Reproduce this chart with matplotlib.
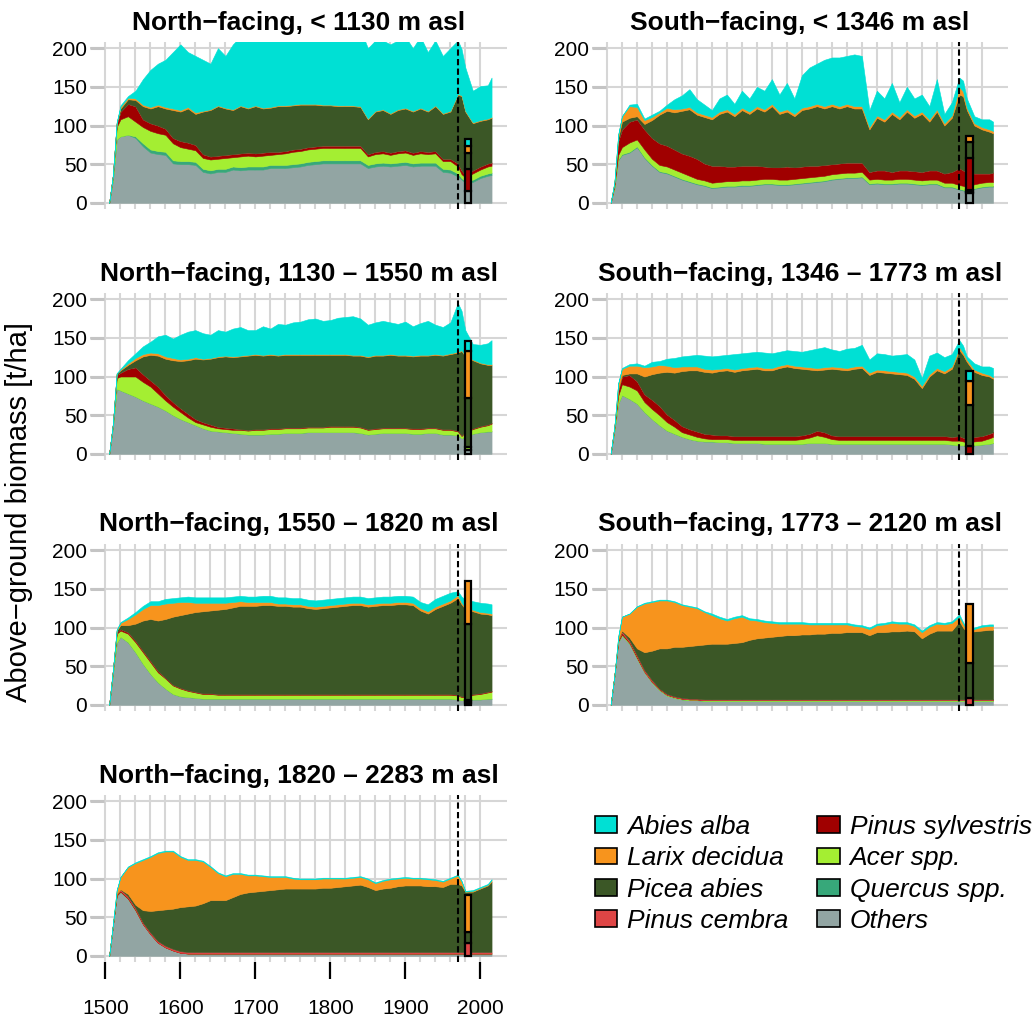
import matplotlib
matplotlib.use("Agg")
import matplotlib.pyplot as plt
from matplotlib.patches import Patch
from matplotlib.font_manager import FontProperties
import numpy as np

plt.rcParams['font.family'] = ['Liberation Sans', 'DejaVu Sans']

# ---------------------------------------------------------------------------
# Simulated above-ground biomass [t/ha] per species, by elevation belt
# ---------------------------------------------------------------------------
YEARS = [1505, 1510, 1515, 1520, 1530, 1540, 1550, 1560, 1570, 1580,
         1590, 1600, 1610, 1620, 1630, 1640, 1650, 1660, 1670, 1680,
         1690, 1700, 1710, 1720, 1730, 1740, 1750, 1760, 1770, 1780,
         1790, 1800, 1810, 1820, 1830, 1840, 1850, 1860, 1870, 1880,
         1890, 1900, 1910, 1920, 1930, 1940, 1950, 1960, 1970, 1975,
         1980, 1990, 2000, 2010, 2015]

# stacking order, bottom to top
SPECIES = ["Others", "Quercus spp.", "Acer spp.", "Pinus sylvestris",
           "Pinus cembra", "Picea abies", "Larix decidua", "Abies alba"]
COLORS = {"Abies alba": "#00E0D4", "Larix decidua": "#F7941D",
          "Picea abies": "#3B5726", "Pinus cembra": "#DE4545",
          "Pinus sylvestris": "#A00000", "Acer spp.": "#A4EE32",
          "Quercus spp.": "#37A87A", "Others": "#92A5A3"}
LEGEND_ORDER = ["Abies alba", "Larix decidua", "Picea abies", "Pinus cembra",
                "Pinus sylvestris", "Acer spp.", "Quercus spp.", "Others"]

# --- North-facing, < 1130 m asl
n1_others = [0, 30, 82, 86, 88, 84, 73, 65, 63, 62,
             51, 50, 50, 49, 40, 38, 40, 40, 43, 42,
             43, 43, 43, 45, 45, 45, 46, 47, 49, 50,
             51, 51, 51, 51, 51, 51, 45, 47, 48, 47,
             48, 49, 47, 48, 48, 48, 40, 39, 34, 30,
             26, 27, 32, 35, 36]
n1_quercus = [0, 0, 0, 0, 0, 2, 4, 4, 4, 4,
              4, 4, 4, 4, 4, 4, 4, 4, 4, 4,
              4, 4, 4, 4, 4, 4, 4, 4, 4, 4,
              4, 4, 4, 4, 4, 4, 4, 4, 4, 4,
              4, 4, 4, 4, 4, 4, 4, 4, 4, 2,
              2, 3, 3, 3, 3]
n1_acer = [0, 5, 16, 22, 24, 19, 21, 24, 23, 22,
           22, 18, 16, 15, 14, 14, 13, 14, 12, 14,
           14, 13, 14, 13, 14, 15, 16, 16, 16, 16,
           16, 16, 16, 16, 16, 16, 11, 12, 12, 11,
           12, 12, 11, 12, 11, 12, 10, 11, 9, 5,
           5, 8, 8, 9, 9]
n1_sylvestris = [0, 1, 4, 10, 16, 20, 10, 10, 10, 8,
                 7, 8, 8, 7, 5, 4, 4, 4, 4, 4,
                 4, 4, 4, 4, 3, 3, 3, 3, 3, 3,
                 3, 3, 3, 3, 3, 3, 3, 3, 3, 3,
                 3, 3, 3, 3, 3, 3, 3, 3, 4, 5,
                 3, 4, 4, 4, 4]
n1_picea = [0, 0, 1, 4, 6, 8, 17, 19, 25, 26,
            36, 38, 44, 40, 55, 60, 64, 60, 57, 61,
            57, 61, 57, 57, 59, 58, 57, 57, 55, 54,
            52, 52, 51, 51, 51, 50, 45, 52, 53, 50,
            53, 54, 53, 55, 52, 58, 58, 61, 89, 96,
            82, 61, 59, 57, 58]
n1_larix = [0, 0, 1, 2, 2, 2, 2, 2, 2, 2,
            2, 2, 2, 2, 1, 1, 1, 1, 1, 1,
            1, 1, 1, 1, 1, 1, 1, 1, 1, 1,
            1, 1, 1, 1, 1, 1, 1, 1, 1, 1,
            1, 1, 1, 1, 1, 1, 1, 1, 1, 1,
            1, 1, 1, 1, 1]
n1_abies = [0, 0, 0, 2, 2, 10, 33, 48, 53, 61,
            73, 85, 71, 73, 66, 59, 74, 67, 84, 89,
            97, 99, 102, 101, 99, 99, 98, 97, 97, 97,
            98, 98, 99, 99, 99, 100, 91, 91, 89, 89,
            89, 92, 81, 92, 76, 84, 74, 81, 69, 60,
            56, 41, 44, 43, 51]

# --- South-facing, < 1346 m asl
s1_others = [0, 20, 55, 62, 65, 72, 58, 48, 40, 38,
             34, 30, 27, 24, 22, 19, 20, 21, 21, 22,
             22, 23, 24, 24, 23, 23, 24, 25, 26, 27,
             28, 30, 31, 32, 32, 33, 24, 25, 24, 24,
             25, 25, 24, 23, 24, 24, 20, 20, 17, 16,
             14, 18, 20, 21, 21]
s1_quercus = [0, 0, 1, 1, 1, 1, 1, 1, 1, 1,
              1, 1, 1, 1, 1, 1, 1, 1, 1, 1,
              1, 1, 1, 1, 1, 1, 1, 1, 1, 1,
              1, 1, 1, 1, 1, 1, 1, 1, 1, 1,
              1, 1, 1, 1, 1, 1, 1, 1, 1, 1,
              1, 1, 1, 1, 1]
s1_acer = [0, 2, 6, 9, 12, 9, 10, 8, 8, 8,
           8, 8, 7, 6, 6, 6, 6, 6, 6, 6,
           6, 6, 6, 6, 6, 6, 6, 6, 6, 6,
           6, 6, 6, 6, 6, 6, 5, 5, 5, 5,
           5, 5, 5, 5, 5, 5, 5, 5, 5, 5,
           5, 5, 5, 5, 5]
s1_sylvestris = [0, 3, 18, 23, 27, 26, 26, 27, 28, 27,
                 26, 25, 26, 26, 22, 22, 21, 19, 19, 19,
                 19, 18, 16, 15, 16, 17, 15, 15, 15, 14,
                 14, 13, 13, 13, 13, 12, 10, 11, 12, 10,
                 11, 11, 11, 11, 12, 12, 12, 14, 22, 20,
                 20, 14, 12, 11, 12]
s1_picea = [0, 1, 4, 10, 5, 4, 7, 23, 37, 45,
            48, 55, 60, 57, 60, 60, 67, 71, 65, 72,
            67, 74, 71, 79, 69, 71, 66, 73, 74, 77,
            73, 75, 71, 73, 70, 70, 55, 68, 63, 75,
            66, 76, 69, 75, 63, 76, 62, 70, 95, 96,
            80, 62, 57, 54, 51]
s1_larix = [0, 1, 4, 7, 15, 12, 5, 4, 3, 4,
            4, 3, 3, 3, 3, 3, 3, 3, 3, 3,
            3, 3, 3, 3, 3, 3, 3, 3, 3, 3,
            3, 3, 3, 3, 3, 3, 3, 3, 3, 3,
            3, 3, 3, 3, 3, 3, 3, 3, 10, 6,
            3, 3, 3, 3, 3]
s1_abies = [0, 0, 0, 0, 2, 4, 2, 3, 2, 4,
            13, 17, 23, 17, 13, 9, 17, 19, 13, 22,
            17, 25, 24, 32, 22, 34, 20, 42, 50, 52,
            60, 60, 63, 62, 67, 65, 22, 32, 27, 37,
            19, 29, 22, 22, 17, 39, 12, 17, 12, 14,
            12, 9, 10, 13, 12]

# --- North-facing, 1130 - 1550 m asl
n2_others = [0, 35, 84, 82, 78, 74, 69, 65, 61, 56,
             50, 45, 41, 37, 33, 30, 29, 28, 27, 26,
             25, 25, 25, 26, 26, 27, 27, 27, 28, 28,
             28, 28, 28, 28, 28, 27, 25, 26, 27, 27,
             27, 27, 26, 26, 27, 27, 25, 25, 24, 20,
             22, 26, 28, 29, 29]
n2_acer = [0, 3, 14, 18, 22, 26, 24, 22, 17, 13,
           11, 9, 6, 4, 5, 5, 4, 4, 4, 5,
           5, 6, 6, 6, 6, 6, 6, 6, 6, 6,
           6, 7, 7, 7, 7, 7, 6, 6, 6, 6,
           6, 6, 6, 6, 6, 6, 6, 6, 5, 3,
           6, 6, 7, 8, 10]
n2_sylvestris = [0, 1, 4, 5, 10, 12, 10, 8, 9, 7,
                 6, 5, 5, 4, 3, 3, 2, 2, 2, 1,
                 1, 1, 1, 1, 1, 1, 1, 1, 1, 1,
                 1, 1, 1, 1, 1, 1, 1, 1, 1, 1,
                 1, 1, 1, 1, 1, 1, 1, 1, 1, 1,
                 1, 1, 1, 1, 1]
n2_picea = [0, 0, 2, 3, 5, 9, 23, 33, 40, 47,
            54, 61, 69, 78, 81, 85, 90, 92, 92, 94,
            96, 96, 95, 95, 94, 94, 94, 94, 93, 93,
            93, 92, 92, 92, 91, 92, 93, 94, 93, 94,
            93, 93, 93, 94, 93, 94, 95, 97, 101, 109,
            97, 88, 81, 77, 75]
n2_larix = [0, 0, 0, 1, 2, 3, 3, 3, 3, 3,
            3, 2, 2, 2, 1, 1, 1, 1, 1, 1,
            1, 1, 1, 1, 1, 1, 1, 1, 1, 1,
            1, 1, 1, 1, 1, 1, 1, 1, 1, 1,
            1, 1, 1, 1, 1, 1, 1, 1, 1, 1,
            1, 1, 1, 1, 1]
n2_abies = [0, 0, 0, 1, 4, 6, 10, 14, 22, 28,
            25, 32, 35, 35, 33, 30, 34, 31, 36, 37,
            32, 31, 37, 33, 40, 38, 41, 42, 45, 46,
            43, 44, 47, 48, 50, 47, 41, 42, 44, 41,
            40, 43, 38, 41, 44, 38, 36, 40, 63, 51,
            33, 20, 23, 27, 31]

# --- South-facing, 1346 - 1773 m asl
s2_others = [0, 30, 65, 76, 71, 65, 54, 45, 37, 30,
             26, 22, 19, 17, 16, 16, 15, 15, 14, 14,
             14, 14, 13, 13, 13, 13, 13, 13, 14, 14,
             14, 13, 13, 13, 13, 13, 13, 13, 13, 13,
             13, 13, 13, 13, 13, 13, 13, 12, 11, 11,
             10, 11, 12, 13, 14]
s2_acer = [0, 3, 10, 14, 16, 17, 13, 13, 13, 11,
           9, 6, 6, 5, 4, 3, 4, 4, 4, 4,
           4, 4, 5, 5, 5, 5, 5, 6, 7, 10,
           8, 6, 5, 5, 5, 5, 5, 5, 5, 5,
           5, 5, 5, 5, 5, 5, 5, 5, 6, 5,
           5, 5, 5, 7, 8]
s2_sylvestris = [0, 2, 7, 10, 15, 12, 10, 12, 12, 10,
                 9, 8, 7, 7, 6, 6, 5, 5, 5, 5,
                 5, 5, 5, 5, 5, 5, 5, 5, 5, 6,
                 6, 5, 5, 5, 5, 5, 5, 5, 5, 5,
                 5, 5, 5, 5, 5, 5, 5, 5, 6, 5,
                 5, 6, 6, 6, 6]
s2_picea = [0, 0, 1, 2, 2, 10, 23, 33, 43, 55,
            61, 71, 76, 79, 80, 80, 83, 84, 83, 85,
            86, 87, 85, 85, 88, 90, 88, 86, 83, 78,
            81, 86, 86, 85, 87, 88, 79, 83, 82, 81,
            80, 79, 74, 62, 77, 85, 81, 88, 111, 107,
            99, 84, 79, 74, 69]
s2_larix = [0, 1, 8, 8, 10, 10, 12, 10, 10, 8,
            7, 6, 5, 5, 4, 4, 3, 3, 3, 3,
            3, 3, 3, 3, 3, 3, 3, 3, 3, 3,
            3, 3, 3, 3, 3, 3, 3, 3, 3, 3,
            3, 3, 3, 3, 3, 3, 3, 3, 4, 3,
            3, 3, 3, 2, 2]
s2_abies = [0, 0, 0, 1, 2, 3, 2, 6, 5, 9,
            12, 13, 14, 15, 17, 17, 17, 17, 20, 19,
            19, 19, 20, 19, 18, 18, 19, 19, 22, 25,
            26, 22, 21, 25, 24, 27, 17, 21, 21, 20,
            22, 24, 22, 10, 24, 20, 18, 16, 9, 9,
            4, 8, 8, 11, 12]

# --- North-facing, 1550 - 1820 m asl
n3_others = [0, 40, 80, 88, 81, 68, 53, 40, 29, 21,
             14, 11, 10, 9, 8, 8, 8, 8, 8, 8,
             8, 8, 8, 8, 8, 8, 8, 8, 8, 8,
             8, 8, 8, 8, 8, 8, 8, 8, 8, 8,
             8, 8, 8, 8, 8, 8, 8, 8, 7, 6,
             6, 7, 7, 8, 8]
n3_acer = [0, 4, 12, 8, 11, 13, 15, 15, 13, 13,
           11, 10, 8, 7, 6, 6, 5, 5, 5, 5,
           5, 5, 5, 5, 5, 5, 5, 5, 5, 5,
           5, 5, 5, 5, 5, 5, 5, 5, 5, 5,
           5, 5, 5, 5, 5, 5, 5, 5, 5, 4,
           4, 6, 7, 8, 9]
n3_sylvestris = [0, 1, 2, 2, 2, 2, 2, 2, 2, 1,
                 1, 1, 1, 1, 1, 1, 1, 1, 1, 1,
                 1, 1, 1, 1, 1, 1, 1, 1, 1, 1,
                 1, 1, 1, 1, 1, 1, 1, 1, 1, 1,
                 1, 1, 1, 1, 1, 1, 1, 1, 1, 1,
                 1, 1, 1, 1, 1]
n3_picea = [0, 0, 2, 5, 9, 22, 39, 54, 65, 76,
            88, 94, 99, 103, 106, 107, 109, 110, 112, 114,
            114, 114, 115, 115, 114, 114, 113, 113, 111, 110,
            111, 112, 113, 114, 115, 115, 113, 114, 115, 115,
            116, 116, 115, 108, 104, 110, 114, 118, 125, 119,
            113, 107, 103, 100, 98]
n3_larix = [0, 0, 1, 3, 8, 12, 15, 18, 20, 20,
            18, 17, 15, 12, 11, 10, 9, 8, 7, 6,
            5, 5, 4, 4, 3, 3, 3, 3, 3, 3,
            3, 3, 3, 3, 3, 3, 3, 3, 3, 3,
            3, 3, 3, 3, 3, 3, 3, 3, 4, 2,
            2, 2, 2, 2, 2]
n3_abies = [0, 0, 0, 1, 2, 3, 4, 5, 5, 6,
            6, 6, 7, 7, 7, 7, 7, 7, 7, 7,
            7, 7, 8, 8, 8, 8, 8, 8, 8, 8,
            8, 8, 8, 8, 8, 8, 8, 8, 8, 8,
            8, 8, 8, 8, 9, 10, 10, 10, 5, 8,
            10, 11, 12, 12, 12]

# --- South-facing, 1773 - 2120 m asl
s3_others = [0, 38, 81, 90, 79, 60, 42, 29, 19, 12,
             9, 7, 6, 6, 5, 5, 5, 5, 5, 5,
             5, 5, 5, 5, 5, 5, 5, 5, 5, 5,
             5, 5, 5, 5, 5, 5, 5, 5, 5, 5,
             5, 5, 5, 5, 5, 5, 5, 5, 5, 5,
             5, 5, 5, 5, 5]
s3_acer = [0, 0, 1, 1, 1, 1, 1, 1, 1, 1,
           1, 1, 1, 1, 1, 1, 1, 1, 1, 1,
           1, 1, 1, 1, 1, 1, 1, 1, 1, 1,
           1, 1, 1, 1, 1, 1, 1, 1, 1, 1,
           1, 1, 1, 1, 1, 1, 1, 1, 1, 1,
           1, 1, 1, 1, 1]
s3_sylvestris = [0, 0, 1, 2, 1, 1, 0, 0, 0, 0,
                 0, 0, 0, 0, 0, 0, 0, 0, 0, 0,
                 0, 0, 0, 0, 0, 0, 0, 0, 0, 0,
                 0, 0, 0, 0, 0, 0, 0, 0, 0, 0,
                 0, 0, 0, 0, 0, 0, 0, 0, 0, 0,
                 0, 0, 0, 0, 0]
s3_cembra = [0, 0, 1, 2, 2, 2, 2, 2, 1, 1,
             1, 1, 1, 1, 1, 1, 1, 1, 1, 1,
             1, 1, 1, 1, 1, 1, 1, 1, 1, 1,
             1, 1, 1, 1, 1, 1, 1, 1, 1, 1,
             1, 1, 1, 1, 1, 1, 1, 1, 1, 1,
             1, 1, 1, 1, 1]
s3_picea = [0, 0, 0, 1, 4, 9, 23, 38, 52, 59,
            64, 66, 68, 69, 71, 72, 72, 72, 73, 74,
            77, 79, 80, 81, 82, 83, 83, 84, 84, 85,
            85, 86, 86, 87, 87, 87, 83, 87, 87, 88,
            88, 89, 88, 79, 85, 89, 89, 89, 101, 93,
            87, 88, 89, 90, 90]
s3_larix = [0, 0, 4, 18, 31, 54, 63, 63, 62, 62,
            58, 54, 51, 48, 42, 37, 33, 30, 32, 33,
            26, 23, 20, 18, 16, 15, 15, 14, 13, 12,
            12, 11, 11, 10, 8, 7, 8, 9, 10, 11,
            10, 9, 7, 8, 9, 9, 8, 10, 6, 5,
            2, 3, 5, 5, 5]
s3_abies = [0, 0, 0, 0, 0, 0.5, 1, 1, 1, 1,
            1, 1, 1, 1, 1, 2, 2, 2, 2, 2,
            2, 2, 2, 2, 2, 2, 2, 2, 2, 2,
            2, 2, 2, 2, 2, 2, 2, 2, 2, 2,
            2, 2, 2, 2, 2, 2, 2, 2, 3, 2,
            2, 2, 2, 2, 2]

# --- North-facing, 1820 - 2283 m asl
n4_others = [0, 40, 78, 83, 74, 59, 41, 28, 17, 11,
             7, 4, 3, 3, 3, 3, 3, 3, 3, 3,
             3, 3, 3, 3, 3, 3, 3, 3, 3, 3,
             3, 3, 3, 3, 3, 3, 3, 3, 3, 3,
             3, 3, 3, 3, 3, 3, 3, 3, 3, 3,
             3, 3, 3, 3, 3]
n4_sylvestris = [0, 0, 1, 1, 1, 1, 0, 0, 0, 0,
                 0, 0, 0, 0, 0, 0, 0, 0, 0, 0,
                 0, 0, 0, 0, 0, 0, 0, 0, 0, 0,
                 0, 0, 0, 0, 0, 0, 0, 0, 0, 0,
                 0, 0, 0, 0, 0, 0, 0, 0, 0, 0,
                 0, 0, 0, 0, 0]
n4_cembra = [0, 0, 1, 2, 2, 2, 2, 2, 2, 2,
             2, 2, 2, 2, 2, 2, 2, 2, 2, 2,
             2, 2, 2, 2, 2, 2, 2, 2, 2, 2,
             2, 2, 2, 2, 2, 2, 2, 2, 2, 2,
             2, 2, 2, 2, 2, 2, 2, 2, 2, 2,
             2, 2, 2, 2, 2]
n4_picea = [0, 0, 0, 0, 3, 4, 16, 28, 40, 47,
            52, 57, 59, 60, 63, 67, 67, 67, 71, 75,
            77, 78, 79, 80, 81, 82, 82, 82, 82, 82,
            83, 83, 84, 85, 86, 87, 84, 80, 82, 83,
            85, 86, 86, 86, 85, 85, 84, 88, 88, 86,
            78, 78, 82, 86, 91]
n4_larix = [0, 1, 5, 16, 35, 54, 65, 70, 74, 75,
            74, 65, 60, 59, 54, 43, 35, 31, 30, 26,
            22, 21, 19, 17, 16, 15, 13, 12, 12, 12,
            12, 12, 11, 10, 10, 10, 10, 9, 10, 11,
            10, 10, 9, 9, 9, 8, 7, 7, 11, 5,
            0, 1, 1, 1, 2]
n4_abies = [0, 0, 0, 0, 0.5, 1, 1, 1, 1, 1,
            1, 1, 1, 1, 1, 1, 1, 1, 1, 1,
            1, 1, 1, 1, 1, 1, 1, 1, 1, 1,
            1, 1, 1, 1, 1, 1, 1, 1, 1, 1,
            1, 1, 1, 1, 1, 1, 1, 1, 1, 1,
            1, 1, 1, 1, 1]

# Forest inventory (observed), bottom to top in SPECIES order
INVENTORY_YEAR = 1983.5
n1_bar = [15, 0, 0, 29, 0, 21, 8, 9]
s1_bar = [13, 1.5, 2, 41, 0, 21.5, 7, 0]
n2_bar = [5, 0, 3.5, 0, 0, 63.5, 61, 13]
s2_bar = [0, 0, 0, 9.5, 0, 54, 31, 12]
n3_bar = [2.5, 0, 2, 2, 0, 97.5, 56, 0]
s3_bar = [0, 0, 0, 0, 9, 45.5, 76.5, 0]
n4_bar = [0, 0, 0, 0, 16, 14.5, 48, 0]

STAND_CHANGE_YEAR = 1970

PANELS = [
    ("North\u2212facing, < 1130 m asl",
     {"Others": n1_others, "Quercus spp.": n1_quercus, "Acer spp.": n1_acer,
      "Pinus sylvestris": n1_sylvestris, "Picea abies": n1_picea,
      "Larix decidua": n1_larix, "Abies alba": n1_abies}, n1_bar),
    ("South\u2212facing, < 1346 m asl",
     {"Others": s1_others, "Quercus spp.": s1_quercus, "Acer spp.": s1_acer,
      "Pinus sylvestris": s1_sylvestris, "Picea abies": s1_picea,
      "Larix decidua": s1_larix, "Abies alba": s1_abies}, s1_bar),
    ("North\u2212facing, 1130 \u2013 1550 m asl",
     {"Others": n2_others, "Acer spp.": n2_acer,
      "Pinus sylvestris": n2_sylvestris, "Picea abies": n2_picea,
      "Larix decidua": n2_larix, "Abies alba": n2_abies}, n2_bar),
    ("South\u2212facing, 1346 \u2013 1773 m asl",
     {"Others": s2_others, "Acer spp.": s2_acer,
      "Pinus sylvestris": s2_sylvestris, "Picea abies": s2_picea,
      "Larix decidua": s2_larix, "Abies alba": s2_abies}, s2_bar),
    ("North\u2212facing, 1550 \u2013 1820 m asl",
     {"Others": n3_others, "Acer spp.": n3_acer,
      "Pinus sylvestris": n3_sylvestris, "Picea abies": n3_picea,
      "Larix decidua": n3_larix, "Abies alba": n3_abies}, n3_bar),
    ("South\u2212facing, 1773 \u2013 2120 m asl",
     {"Others": s3_others, "Acer spp.": s3_acer,
      "Pinus sylvestris": s3_sylvestris, "Pinus cembra": s3_cembra,
      "Picea abies": s3_picea, "Larix decidua": s3_larix,
      "Abies alba": s3_abies}, s3_bar),
    ("North\u2212facing, 1820 \u2013 2283 m asl",
     {"Others": n4_others, "Pinus sylvestris": n4_sylvestris,
      "Pinus cembra": n4_cembra, "Picea abies": n4_picea,
      "Larix decidua": n4_larix, "Abies alba": n4_abies}, n4_bar),
]

GRID = "#d6d6d6"
W, H = 1036, 1019
fig = plt.figure(figsize=(W / 100, H / 100), dpi=100)

COL_LEFT = [90, 591.5]
AX_W = 417
ROW_TOP = [42, 293, 544, 795]
AX_H = 167


def make_axes(row, col):
    left = COL_LEFT[col] / W
    bottom = 1 - (ROW_TOP[row] + AX_H) / H
    return fig.add_axes([left, bottom, AX_W / W, AX_H / H])


def draw_panel(ax, title, layers, bar, bottom_axis):
    ax.set_xlim(1479.4, 2035.6)
    ax.set_ylim(-8, 208)
    ax.set_axisbelow(True)
    for s in ax.spines.values():
        s.set_visible(False)

    ax.set_xticks(range(1500, 2001, 100))
    ax.set_xticks(range(1500, 2001, 20), minor=True)
    ax.set_yticks([0, 50, 100, 150, 200])
    ax.grid(True, which="both", axis="x", color=GRID, lw=1.5)
    ax.grid(True, which="major", axis="y", color=GRID, lw=1.5)

    series = [np.asarray(layers.get(sp, np.zeros(len(YEARS))), float)
              for sp in SPECIES]
    polys = ax.stackplot(YEARS, *series, colors=[COLORS[s] for s in SPECIES],
                         zorder=2)
    for p in polys:
        p.set_edgecolor("face")
        p.set_linewidth(0.4)

    base = 0.0
    for sp, val in zip(SPECIES, bar):
        if val > 0:
            ax.bar(INVENTORY_YEAR, val, bottom=base, width=9,
                   color=COLORS[sp], edgecolor="black", linewidth=1.6,
                   zorder=4)
            base += val

    ax.axvline(STAND_CHANGE_YEAR, color="black", lw=1.5, dashes=(3, 1.6),
               zorder=5)

    ax.set_title(title, fontsize=19, fontweight="bold", pad=9)
    ax.tick_params(axis="y", direction="in", length=10, width=2.2,
                   color="#c4c4c4", labelsize=15, pad=2)
    if bottom_axis:
        ax.tick_params(axis="x", which="major", direction="out", length=12,
                       width=1.6, color="black", labelsize=15, pad=15)
        ax.tick_params(axis="x", which="minor", length=0)
    else:
        ax.tick_params(axis="x", which="both", length=0, labelbottom=False)


positions = [(0, 0), (0, 1), (1, 0), (1, 1), (2, 0), (2, 1), (3, 0)]
for (title, layers, bar), (r, c) in zip(PANELS, positions):
    ax = make_axes(r, c)
    draw_panel(ax, title, layers, bar, bottom_axis=(r == 3))

fig.text(19 / W, 1 - 512 / H, "Above\u2212ground biomass [t/ha]",
         rotation=90, ha="center", va="center", fontsize=21)

handles = [Patch(facecolor=COLORS[s], edgecolor="black", linewidth=1.2)
           for s in LEGEND_ORDER]
fig.legend(handles, LEGEND_ORDER, loc="upper left",
           bbox_to_anchor=(595 / W, 1 - 815 / H), ncol=2, frameon=False,
           prop=FontProperties(family=["Liberation Sans"], style="italic",
                               size=19),
           handlelength=0.84, handleheight=0.6, handletextpad=0.38,
           columnspacing=1.1, labelspacing=0.28, borderpad=0,
           borderaxespad=0)

fig.savefig("out.png", dpi=100)
